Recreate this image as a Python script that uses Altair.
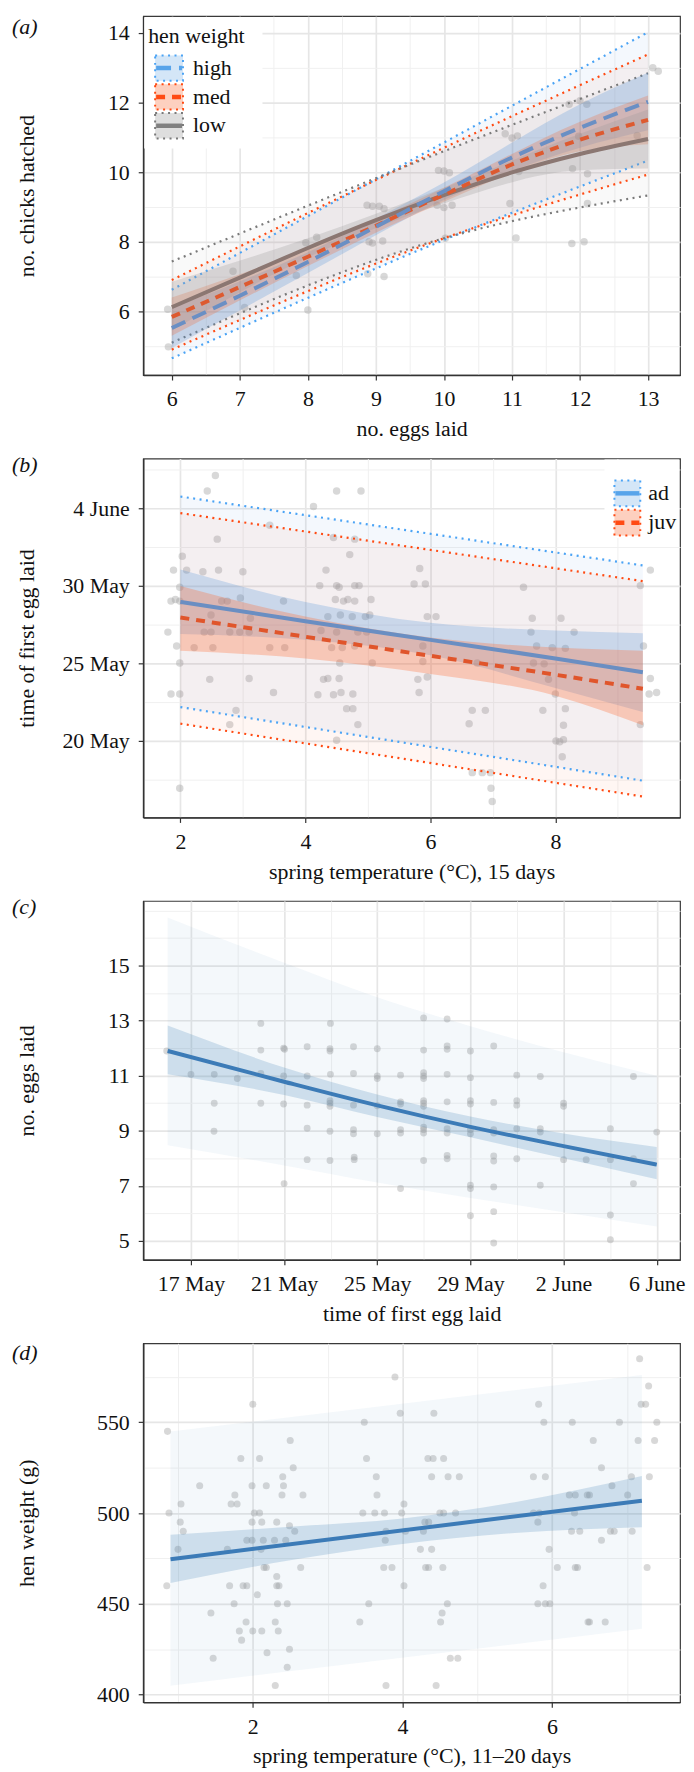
import altair as alt
import pandas as pd

FONT = "Liberation Serif"
FS = 22
W, H = 540, 361

# ---------------- panel (a) : chicks hatched vs eggs laid ----------------
a_points = [(5.94, 6.06), (5.95, 4.98), (6.9, 7.15), (7.07, 6.11), (7.83, 7.03), (8.0, 6.04),
            (7.97, 7.97), (8.13, 8.13), (8.87, 9.05), (8.95, 9.02), (9.05, 9.02), (9.12, 8.95),
            (8.9, 8.0), (8.95, 7.96), (9.1, 8.02), (8.88, 7.08), (9.12, 7.0), (9.92, 10.05),
            (10.0, 10.03), (10.08, 9.98), (9.9, 9.05), (10.0, 8.98), (10.12, 9.05), (10.02, 8.1),
            (10.9, 11.1), (11.0, 10.98), (11.08, 11.04), (11.1, 10.02), (10.97, 9.1), (11.06, 8.11),
            (11.84, 11.95), (12.0, 12.05), (12.1, 11.95), (11.98, 11.03), (11.89, 10.1), (12.11, 9.95),
            (12.11, 9.1), (11.88, 7.95), (12.06, 8.0), (12.84, 11.05), (13.07, 13.0), (13.15, 12.9)]
a_groups = ["high", "med", "low"]
a_fit_x = [6, 7, 8, 9, 10, 11, 12, 13]
a_fit = {"high": [5.52, 6.45, 7.42, 8.43, 9.45, 10.42, 11.27, 12.02],
         "med": [5.84, 6.7, 7.57, 8.46, 9.35, 10.22, 10.93, 11.5],
         "low": [6.12, 6.97, 7.82, 8.62, 9.34, 9.99, 10.52, 10.95]}
a_ci_x = [6, 8, 10, 12, 13]
a_ci_lo = {"high": [4.95, 7.1, 9.2, 10.7, 11.2],
           "med": [5.3, 7.3, 9.15, 10.6, 10.8],
           "low": [5.45, 7.55, 9.1, 10.05, 10.1]}
a_ci_hi = {"high": [6.1, 7.7, 9.7, 11.95, 12.86],
           "med": [6.4, 7.8, 9.55, 11.45, 12.2],
           "low": [6.85, 8.1, 9.55, 11.1, 11.8]}
a_pi_x = [6, 10, 13]
a_pi_lo = {"high": [4.65, 8.05, 10.33], "med": [4.9, 8.1, 9.93], "low": [5.1, 8.1, 9.33]}
a_pi_hi = {"high": [6.62, 10.85, 14.02], "med": [6.9, 10.7, 13.38], "low": [7.43, 10.6, 12.84]}

# ---------------- panel (b) : laying date vs spring temperature ----------------
b_points = [(2.56, 37.1), (2.43, 36.1), (4.50, 36.1), (4.89, 36.1), (4.13, 35.1), (3.43, 33.9),
            (4.45, 33.1), (2.59, 33.0), (4.79, 33.0), (4.71, 32.0), (2.03, 31.9), (1.89, 31.0),
            (2.10, 31.0), (2.36, 30.9), (2.61, 31.0), (3.0, 30.9), (4.33, 31.0), (5.83, 31.1),
            (9.52, 31.0), (1.99, 29.9), (4.23, 30.0), (4.50, 30.0), (4.54, 29.9), (4.79, 30.0),
            (4.86, 30.0), (5.74, 30.1), (5.92, 30.1), (7.49, 29.9), (9.36, 30.0), (1.85, 29.0),
            (1.92, 29.1), (1.99, 29.0), (2.66, 29.0), (2.75, 29.0), (2.96, 29.2), (3.65, 29.0),
            (4.48, 29.1), (4.61, 29.0), (4.68, 29.1), (4.79, 29.0), (5.05, 29.1), (2.49, 28.1),
            (3.12, 27.9), (4.36, 28.0), (4.56, 28.1), (4.75, 28.0), (4.96, 28.0), (5.03, 28.1),
            (5.95, 28.0), (6.09, 28.0), (7.63, 27.9), (8.09, 27.9), (1.80, 27.0), (2.49, 27.0),
            (2.38, 27.0), (2.79, 27.0), (2.95, 27.0), (3.10, 27.0), (4.25, 27.1), (4.50, 27.0),
            (4.84, 27.0), (4.98, 27.0), (7.61, 27.0), (8.30, 27.0), (1.94, 26.1), (2.22, 26.0),
            (2.52, 26.0), (3.43, 26.0), (3.67, 26.0), (4.42, 26.0), (4.59, 26.0), (4.79, 26.1),
            (5.88, 26.1), (7.70, 26.1), (7.95, 26.0), (8.16, 25.95), (9.41, 26.1), (1.99, 25.0),
            (4.55, 25.0), (5.07, 25.0), (5.88, 25.1), (6.75, 25.0), (7.65, 25.0), (7.82, 24.95),
            (2.47, 23.95), (3.10, 24.0), (4.29, 23.95), (4.36, 24.0), (4.54, 24.0), (5.80, 23.95),
            (5.95, 24.1), (7.89, 23.95), (9.52, 24.0), (1.85, 23.0), (1.99, 23.0), (3.49, 23.1),
            (4.20, 22.96), (4.45, 22.96), (4.57, 23.1), (4.76, 23.0), (5.82, 23.1), (8.0, 23.0),
            (9.50, 23.0), (9.62, 23.1), (2.89, 21.95), (4.66, 22.06), (4.76, 22.06), (6.67, 21.95),
            (6.88, 21.95), (7.80, 21.95), (8.16, 22.06), (2.79, 21.03), (4.84, 21.03), (6.62, 21.09),
            (8.13, 20.99), (9.36, 21.03), (4.50, 20.02), (8.01, 19.98), (8.07, 19.92), (8.13, 20.06),
            (8.11, 18.95), (6.67, 17.93), (6.83, 17.93), (6.96, 17.93), (1.99, 16.92), (6.97, 16.92),
            (6.99, 16.07)]
b_groups = ["ad", "juv"]
b_fit_x = [2.0, 4.0, 6.0, 8.0, 9.4]
b_fit = {"ad": [28.95, 27.7, 26.5, 25.3, 24.41], "juv": [27.94, 26.7, 25.47, 24.25, 23.34]}
b_ci_lo = {"ad": [26.87, 26.5, 25.5, 23.4, 21.84], "juv": [25.8, 25.3, 24.3, 22.9, 20.99]}
b_ci_hi = {"ad": [31.04, 28.95, 27.6, 27.1, 26.93], "juv": [29.97, 28.0, 26.65, 26.0, 25.8]}
b_pi_x = [2.0, 9.4]
b_pi_lo = {"ad": [22.16, 17.41], "juv": [21.09, 16.39]}
b_pi_hi = {"ad": [35.75, 31.3], "juv": [34.68, 30.29]}

# ---------------- panel (c) : eggs laid vs laying date ----------------
c_points = [(15.96, 11.9), (17.0, 11.05), (18.0, 11.05), (18.0, 10.0), (17.99, 8.98), (18.99, 10.9),
            (20.0, 12.9), (20.0, 11.93), (20.0, 11.08), (20.0, 10.0), (20.98, 12.0), (21.02, 11.96),
            (20.98, 10.99), (20.98, 9.97), (21.0, 7.08), (21.99, 12.05), (21.99, 10.99), (21.99, 9.93),
            (21.99, 9.09), (21.99, 7.95), (22.99, 12.9), (22.97, 11.98), (22.97, 11.9), (22.99, 11.05),
            (22.97, 10.09), (22.97, 10.0), (22.97, 9.89), (22.97, 8.98), (22.97, 7.92), (23.98, 12.05),
            (23.98, 11.08), (23.98, 9.93), (23.98, 9.04), (23.98, 8.89), (24.01, 8.04), (24.01, 7.95),
            (25.0, 11.98), (25.0, 10.99), (25.0, 10.9), (25.0, 9.91), (25.0, 8.89), (26.0, 11.02),
            (26.0, 10.05), (26.0, 9.97), (26.0, 9.04), (26.0, 8.92), (26.0, 6.9), (26.99, 13.1),
            (26.99, 11.93), (26.99, 11.11), (26.99, 10.99), (26.99, 10.9), (26.99, 10.09), (26.99, 10.0),
            (26.99, 9.89), (26.99, 9.13), (26.99, 9.04), (26.99, 8.92), (26.99, 7.92), (28.0, 13.06),
            (28.0, 12.08), (28.0, 11.96), (28.0, 11.05), (28.0, 10.05), (28.0, 9.07), (28.0, 8.92),
            (28.0, 8.1), (28.0, 7.98), (29.0, 11.9), (29.0, 10.93), (29.0, 10.09), (29.0, 9.97),
            (29.0, 9.04), (29.0, 8.89), (29.0, 7.02), (29.0, 6.9), (29.0, 5.91), (30.0, 12.08),
            (30.0, 10.03), (30.0, 9.04), (30.0, 8.92), (30.0, 8.08), (30.0, 7.9), (30.0, 6.96),
            (30.0, 6.06), (30.0, 4.92), (30.99, 11.02), (30.99, 10.09), (30.99, 9.93), (30.99, 9.07),
            (30.99, 7.98), (32.0, 10.97), (32.0, 9.07), (32.0, 8.95), (32.0, 7.02), (33.0, 10.0),
            (33.0, 9.89), (33.0, 7.95), (33.97, 7.95), (35.01, 9.07), (35.01, 7.95), (35.01, 5.94),
            (35.01, 5.04), (36.0, 10.97), (36.0, 7.98), (36.0, 7.08), (37.0, 8.95)]
c_fit_x = [16, 21, 25, 29, 33, 37]
c_fit = [11.9, 10.78, 9.92, 9.14, 8.44, 7.77]
c_ci_lo = [11.05, 10.3, 9.5, 8.76, 8.0, 7.24]
c_ci_hi = [12.82, 11.3, 10.32, 9.52, 8.9, 8.41]
c_pi_lo = [8.47, 7.74, 7.12, 6.56, 6.04, 5.52]
c_pi_hi = [16.75, 15.1, 13.85, 12.8, 11.85, 11.0]

# ---------------- panel (d) : hen weight vs spring temperature ----------------
d_points = [(0.86, 545), (0.88, 500), (0.85, 460), (1.0, 480), (1.04, 505), (1.03, 495), (1.07, 490),
            (1.29, 515), (1.44, 445), (1.47, 420), (1.66, 480), (1.69, 460), (1.75, 450), (1.71, 505),
            (1.76, 510), (1.79, 505), (1.84, 530), (1.82, 435), (1.85, 430), (1.87, 460), (1.92, 460),
            (1.91, 440), (1.92, 485), (1.99, 515), (2.0, 560), (1.99, 495), (1.99, 485), (2.0, 435),
            (2.02, 500), (2.06, 455), (2.09, 530), (2.09, 500), (2.11, 480), (2.12, 435), (2.12, 495),
            (2.15, 470), (2.18, 470), (2.18, 515), (2.19, 423), (2.14, 485), (2.29, 485), (2.3, 440),
            (2.3, 405), (2.32, 465), (2.32, 460), (2.33, 450), (2.34, 435), (2.32, 495), (2.35, 460),
            (2.39, 510), (2.4, 520), (2.41, 515), (2.44, 485), (2.46, 415), (2.46, 450), (2.49, 493),
            (2.5, 540), (2.49, 425), (2.54, 525), (2.56, 490), (2.64, 470), (2.67, 510), (3.43, 440),
            (3.49, 550), (3.47, 500), (3.52, 530), (3.55, 450), (3.63, 500), (3.65, 520), (3.66, 510),
            (3.75, 470), (3.76, 500), (3.77, 485), (3.78, 490), (3.78, 405), (3.86, 470), (3.9, 575),
            (3.97, 555), (3.99, 500), (4.02, 505), (4.02, 460), (4.04, 490), (4.24, 480), (4.28, 490),
            (4.3, 495), (4.31, 470), (4.34, 530), (4.35, 495), (4.35, 470), (4.39, 520), (4.39, 480),
            (4.41, 530), (4.42, 555), (4.45, 405), (4.5, 500), (4.51, 440), (4.53, 445), (4.54, 470),
            (4.55, 530), (4.55, 500), (4.6, 450), (4.61, 520), (4.64, 420), (4.71, 500), (4.74, 420),
            (4.76, 520), (5.75, 520), (5.75, 500), (5.81, 495), (5.82, 560), (5.81, 450), (5.83, 500),
            (5.88, 460), (5.89, 550), (5.91, 450), (5.91, 520), (5.97, 450), (5.96, 480), (6.07, 470),
            (6.23, 510), (6.26, 490), (6.27, 550), (6.3, 500), (6.31, 510), (6.31, 470), (6.34, 470),
            (6.37, 490), (6.47, 510), (6.48, 440), (6.5, 510), (6.5, 440), (6.55, 540), (6.66, 525),
            (6.66, 485), (6.71, 440), (6.78, 490), (6.8, 515), (6.83, 490), (6.9, 550), (7.01, 510),
            (7.06, 520), (7.07, 490), (7.15, 540), (7.17, 585), (7.19, 560), (7.25, 560), (7.27, 470),
            (7.29, 570), (7.3, 520), (7.37, 540), (7.4, 550)]
d_fit_x = [0.9, 7.2]
d_fit = [474.6, 506.8]
d_ci_x = [0.9, 2.5, 4.0, 5.5, 7.2]
d_ci_lo = [461.5, 474.0, 483.0, 489.0, 492.2]
d_ci_hi = [488.0, 492.5, 497.0, 506.0, 520.4]
d_pi_x = [0.9, 7.2]
d_pi_lo = [404.9, 436.3]
d_pi_hi = [544.9, 576.1]

# ---------------- styling ----------------
LINE_COL = {"high": "#6a8fc4", "med": "#dd5a30", "low": "#8b7772", "ad": "#6a8ec2", "juv": "#e0552b"}
KEY_LINE = {"high": "#58a4ea", "med": "#ff4b14", "low": "#808080", "ad": "#58a4ea", "juv": "#ff4b14"}
DOT_COL = {"high": "#4aa3f5", "med": "#ff4a12", "low": "#7a7a7a", "ad": "#4aa3f5", "juv": "#ff4a12"}
CI_COL = {"high": "#4a90d9", "med": "#f26b3a", "low": "#9a9a9a", "ad": "#4a90d9", "juv": "#ff6a33"}
CI_OP = {"high": 0.25, "med": 0.28, "low": 0.28, "ad": 0.25, "juv": 0.3}
KEY_FILL = {"high": "#d4e6f7", "med": "#fdd0bf", "low": "#dedede", "ad": "#d4e6f7", "juv": "#fdd0bf"}
DASH = {"high": [15, 8], "med": [9, 7], "low": None, "ad": None, "juv": [9, 7]}
DOTTED = [2, 4.5]
STEEL = "#3c7bb7"
ONE = pd.DataFrame({"k": [0]})


def make_axis(title, values, minor, label_expr, kind):
    kw = dict(
        title=title, values=values, grid=True,
        labelExpr=f"({minor}) ? '' : ({label_expr})",
        gridColor={"condition": {"test": minor, "value": "#f0f0f0"}, "value": "#e6e6e6"},
        gridWidth={"condition": {"test": minor, "value": 1.0}, "value": 1.7},
        tickOpacity={"condition": {"test": minor, "value": 0}, "value": 1},
        labelOverlap=False, labelFlush=False,
    )
    if kind == "x":
        kw.update(titleY=61, titleBaseline="alphabetic")
    else:
        kw.update(titleX=-110, titleY=H / 2, titleAngle=270, titleBaseline="alphabetic",
                  titleAlign="center")
    return alt.Axis(**kw)


class Panel:
    def __init__(self, xdom, ydom, xaxis, yaxis):
        self.xdom, self.ydom, self.xaxis, self.yaxis = xdom, ydom, xaxis, yaxis
        self.layers = []

    def X(self):
        return alt.X("x:Q", scale=alt.Scale(domain=self.xdom, nice=False, zero=False), axis=self.xaxis)

    def Y(self, field="y"):
        return alt.Y(f"{field}:Q", scale=alt.Scale(domain=self.ydom, nice=False, zero=False),
                     axis=self.yaxis)

    def points(self, pairs, size=56):
        df = pd.DataFrame(pairs, columns=["x", "y"])
        self.layers.append(alt.Chart(df).mark_circle(size=size, color="#a2a2a2", opacity=0.42)
                           .encode(x=self.X(), y=self.Y()))

    def band(self, xs, lo, hi, color, opacity):
        df = pd.DataFrame({"x": xs, "lo": lo, "hi": hi})
        self.layers.append(alt.Chart(df).mark_area(color=color, opacity=opacity, interpolate="monotone")
                           .encode(x=self.X(), y=self.Y("lo"), y2=alt.Y2("hi")))

    def line(self, xs, ys, color, width, dash=None):
        df = pd.DataFrame({"x": xs, "y": ys})
        kw = dict(color=color, strokeWidth=width, interpolate="monotone")
        if dash:
            kw["strokeDash"] = dash
        self.layers.append(alt.Chart(df).mark_line(**kw).encode(x=self.X(), y=self.Y()))

    # decoration (legend boxes / panel tag), placed in pixels
    def rect(self, x0, x1, y0, y1, fill, stroke=None, dash=None):
        kw = dict(fill=fill)
        if stroke:
            kw.update(stroke=stroke, strokeWidth=2, strokeDash=dash or DOTTED)
        self.layers.append(alt.Chart(ONE).mark_rect(**kw).encode(
            x=alt.value(x0), x2=alt.value(x1), y=alt.value(y0), y2=alt.value(y1)))

    def seg(self, x0, x1, y, color, width, dash=None):
        kw = dict(color=color, strokeWidth=width)
        if dash:
            kw["strokeDash"] = dash
        self.layers.append(alt.Chart(ONE).mark_rule(**kw).encode(
            x=alt.value(x0), x2=alt.value(x1), y=alt.value(y)))

    def text(self, x, y, s, italic=False, align="left"):
        kw = dict(text=s, font=FONT, fontSize=FS, color="#111111", align=align, baseline="alphabetic")
        if italic:
            kw["fontStyle"] = "italic"
        self.layers.append(alt.Chart(ONE).mark_text(**kw).encode(x=alt.value(x), y=alt.value(y)))

    def chart(self):
        return alt.layer(*self.layers).properties(width=W, height=H)


DAY_LABEL = "datum.value <= 31 ? datum.value + ' May' : (datum.value - 31) + ' June'"
NUM_LABEL = "datum.value + ''"

# ---- (a)
pa = Panel([5.58, 13.47], [4.17, 14.48],
           make_axis("no. eggs laid", [6, 6.5, 7, 7.5, 8, 8.5, 9, 9.5, 10, 10.5, 11, 11.5, 12, 12.5, 13],
                     "datum.value % 1 !== 0", NUM_LABEL, "x"),
           make_axis("no. chicks hatched", [5, 6, 7, 8, 9, 10, 11, 12, 13, 14],
                     "datum.value % 2 !== 0", NUM_LABEL, "y"))
pa.points(a_points)
for g in a_groups:
    pa.band(a_pi_x, a_pi_lo[g], a_pi_hi[g], CI_COL[g], 0.06)
for g in a_groups:
    pa.line(a_pi_x, a_pi_hi[g], DOT_COL[g], 2.2, DOTTED)
    pa.line(a_pi_x, a_pi_lo[g], DOT_COL[g], 2.2, DOTTED)
for g in a_groups:
    pa.band(a_ci_x, a_ci_lo[g], a_ci_hi[g], CI_COL[g], CI_OP[g])
for g in ["low", "med", "high"]:
    pa.line(a_fit_x, a_fit[g], LINE_COL[g], 4, DASH[g])
pa.rect(1, 120, 1, 133, "white")
pa.text(5, 27, "hen weight")
for i, g in enumerate(a_groups):
    top = 39.5 + 29 * i
    pa.rect(12, 40, top, top + 25.5, KEY_FILL[g], DOT_COL[g])
    pa.seg(13, 39, top + 12.75, KEY_LINE[g], 4.5, DASH[g])
    pa.text(50, top + 19.5, g)
pa.text(-132, 18, "(a)", italic=True)

# ---- (b)
pb = Panel([1.405, 9.995], [15.04, 38.2],
           make_axis("spring temperature (°C), 15 days", [2, 3, 4, 5, 6, 7, 8, 9],
                     "datum.value % 2 !== 0", NUM_LABEL, "x"),
           make_axis("time of first egg laid", [17.5, 20, 22.5, 25, 27.5, 30, 32.5, 35, 37.5],
                     "datum.value % 5 !== 0", DAY_LABEL, "y"))
pb.points(b_points)
for g in b_groups:
    pb.band(b_pi_x, b_pi_lo[g], b_pi_hi[g], CI_COL[g], 0.06)
for g in b_groups:
    pb.line(b_pi_x, b_pi_hi[g], DOT_COL[g], 2.2, DOTTED)
    pb.line(b_pi_x, b_pi_lo[g], DOT_COL[g], 2.2, DOTTED)
for g in b_groups:
    pb.band(b_fit_x, b_ci_lo[g], b_ci_hi[g], CI_COL[g], CI_OP[g])
for g in b_groups:
    pb.line(b_fit_x, b_fit[g], LINE_COL[g], 4, DASH[g])
pb.rect(464, 539, 1, 80, "white")
for i, g in enumerate(b_groups):
    top = 22 + 29.5 * i
    pb.rect(474, 500, top, top + 26, KEY_FILL[g], DOT_COL[g])
    pb.seg(475, 499, top + 13, KEY_LINE[g], 4.5, DASH[g])
    pb.text(508, top + 19.5, g)
pb.text(-132, 14, "(b)", italic=True)

# ---- (c)
pc = Panel([14.95, 38.0], [4.31, 17.35],
           make_axis("time of first egg laid", [17, 19, 21, 23, 25, 27, 29, 31, 33, 35, 37],
                     "(datum.value - 17) % 4 !== 0", DAY_LABEL, "x"),
           make_axis("no. eggs laid", [5, 6, 7, 8, 9, 10, 11, 12, 13, 14, 15, 16, 17],
                     "datum.value % 2 === 0 || datum.value > 16", NUM_LABEL, "y"))
pc.points(c_points, size=48)
pc.band(c_fit_x, c_pi_lo, c_pi_hi, "#4682b4", 0.06)
pc.band(c_fit_x, c_ci_lo, c_ci_hi, "#4682b4", 0.22)
pc.line(c_fit_x, c_fit, STEEL, 4)
pc.text(-132, 13, "(c)", italic=True)

# ---- (d)
pd_ = Panel([0.535, 7.71], [395.8, 593.5],
            make_axis("spring temperature (°C), 11–20 days", [1, 2, 3, 4, 5, 6, 7],
                      "datum.value % 2 !== 0", NUM_LABEL, "x"),
            make_axis("hen weight (g)", [400, 425, 450, 475, 500, 525, 550, 575],
                      "datum.value % 50 !== 0", NUM_LABEL, "y"))
pd_.points(d_points, size=50)
pd_.band(d_pi_x, d_pi_lo, d_pi_hi, "#4682b4", 0.06)
pd_.band(d_ci_x, d_ci_lo, d_ci_hi, "#4682b4", 0.22)
pd_.line(d_fit_x, d_fit, STEEL, 4)
pd_.text(-132, 17, "(d)", italic=True)

chart = (
    alt.vconcat(pa.chart(), pb.chart(), pc.chart(), pd_.chart(), spacing=84, bounds="flush")
    .resolve_scale(x="independent", y="independent")
    .properties(padding={"left": 3, "top": 2, "right": 0, "bottom": 0})
    .configure_axis(labelFont=FONT, titleFont=FONT, labelFontSize=FS, titleFontSize=FS,
                    labelColor="#111111", titleColor="#111111", titleFontWeight="normal",
                    tickColor="#333333", tickSize=5, tickWidth=1.2, labelPadding=9,
                    domainColor="#333333", domainWidth=1.6)
    .configure_view(stroke="#3a3a3a", strokeWidth=1.2)
)
chart.save("out.html", embed_options={"renderer": "svg", "actions": False})
